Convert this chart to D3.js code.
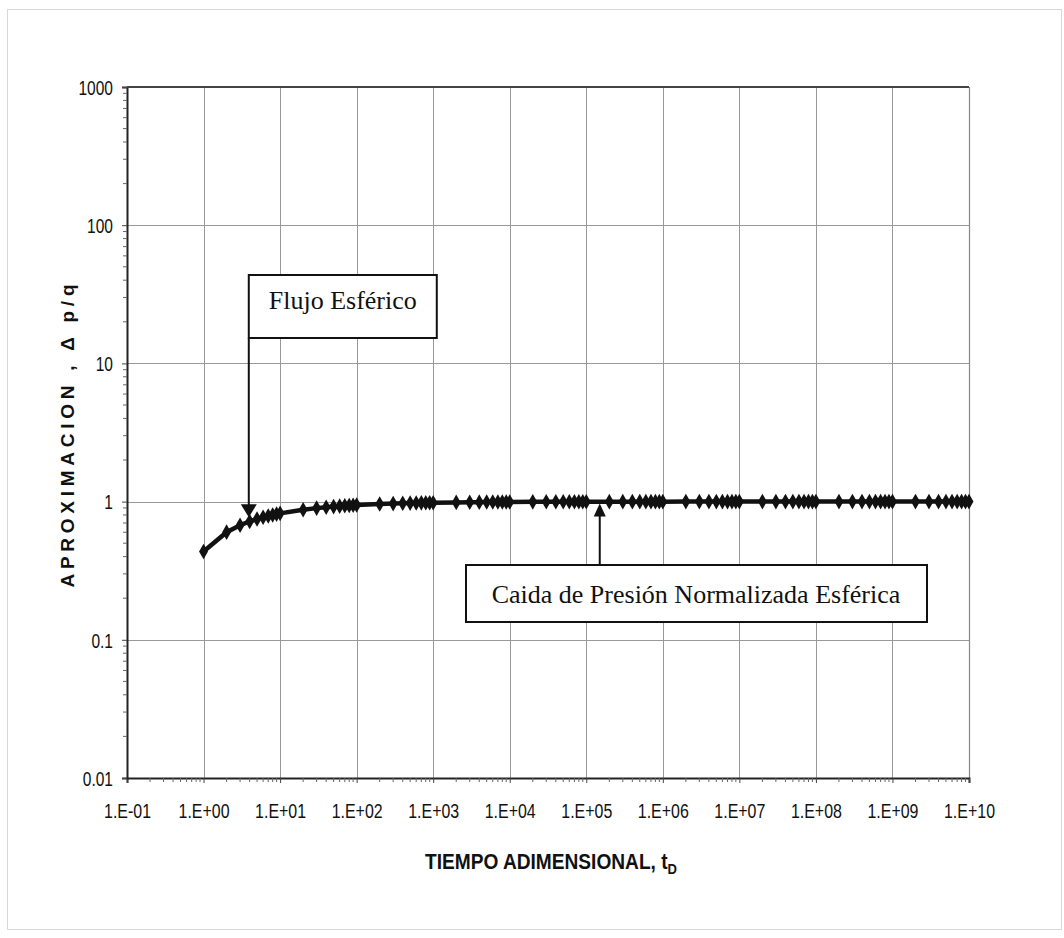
<!DOCTYPE html>
<html><head><meta charset="utf-8">
<script src="https://cdn.jsdelivr.net/npm/d3@7"></script>
<style>body{margin:0;background:#fff;}svg{display:block;}</style>
</head><body>
<svg id="c" width="1064" height="938"></svg>
<script>
// Data
const tD = [
 1,2,3,4,5,6,7,8,9,
 10,20,30,40,50,60,70,80,90,
 100,200,300,400,500,600,700,800,900,
 1e3,2e3,3e3,4e3,5e3,6e3,7e3,8e3,9e3,
 1e4,2e4,3e4,4e4,5e4,6e4,7e4,8e4,9e4,
 1e5,2e5,3e5,4e5,5e5,6e5,7e5,8e5,9e5,
 1e6,2e6,3e6,4e6,5e6,6e6,7e6,8e6,9e6,
 1e7,2e7,3e7,4e7,5e7,6e7,7e7,8e7,9e7,
 1e8,2e8,3e8,4e8,5e8,6e8,7e8,8e8,9e8,
 1e9,2e9,3e9,4e9,5e9,6e9,7e9,8e9,9e9,
 1e10];
const approx = [
 0.436,0.601,0.674,0.718,0.748,0.770,0.787,0.801,0.812,
 0.822,0.874,0.897,0.911,0.920,0.927,0.933,0.937,0.941,
 0.944,0.960,0.967,0.972,0.975,0.977,0.979,0.980,0.981,
 0.982,0.987,0.990,0.991,0.992,0.993,0.993,0.994,0.994,
 0.994,0.996,0.997,0.997,0.997,0.998,0.998,0.998,0.998,
 0.998,0.999,0.999,0.999,0.999,0.999,0.999,0.999,0.999,
 0.999,1.000,1.000,1.000,1.000,1.000,1.000,1.000,1.000,
 1.000,1.000,1.000,1.000,1.000,1.000,1.000,1.000,1.000,
 1.000,1.000,1.000,1.000,1.000,1.000,1.000,1.000,1.000,
 1.000,1.000,1.000,1.000,1.000,1.000,1.000,1.000,1.000,
 1.000];
const xTicks = [1e-1,1e0,1e1,1e2,1e3,1e4,1e5,1e6,1e7,1e8,1e9,1e10];
const xTickLabels = ["1.E-01","1.E+00","1.E+01","1.E+02","1.E+03","1.E+04","1.E+05","1.E+06","1.E+07","1.E+08","1.E+09","1.E+10"];
const yTicks = [0.01,0.1,1,10,100,1000];
const yTickLabels = ["0.01","0.1","1","10","100","1000"];
const notes = [
 {text:"Flujo Esférico", t:3.9, v:0.77},
 {text:"Caida de Presión Normalizada Esférica", t:1.5e5, v:0.97}
];

const svg = d3.select("#c");
const L=127, R=969, T=87, B=778;
const x = d3.scaleLog().domain([1e-1,1e10]).range([L,R]);
const y = d3.scaleLog().domain([0.01,1000]).range([B,T]);
const sans = "'Liberation Sans', Arial, sans-serif";
const serif = "'Liberation Serif', 'Times New Roman', serif";

// outer faint frame
svg.append("rect").attr("x",7.5).attr("y",9.5).attr("width",1054).attr("height",920)
  .attr("fill","none").attr("stroke","#d8d8d8").attr("stroke-width",1);

// grid
const g = svg.append("g");
g.selectAll(".vx").data(xTicks.slice(1,-1)).join("line")
  .attr("x1",d=>Math.round(x(d))+0.5).attr("x2",d=>Math.round(x(d))+0.5)
  .attr("y1",T).attr("y2",B).attr("stroke","#999").attr("stroke-width",1);
g.selectAll(".hy").data(yTicks.slice(1,-1)).join("line")
  .attr("y1",d=>Math.round(y(d))+0.5).attr("y2",d=>Math.round(y(d))+0.5)
  .attr("x1",L).attr("x2",R).attr("stroke","#999").attr("stroke-width",1);
g.append("line").attr("x1",R+0.5).attr("x2",R+0.5).attr("y1",T).attr("y2",B).attr("stroke","#888").attr("stroke-width",1.2);

// axes
const xAxis = d3.axisBottom(x).tickValues(xTicks).tickFormat((d,i)=>xTickLabels[i]).tickSize(5).tickPadding(18);
const xg = svg.append("g").attr("transform",`translate(0,${B})`).call(xAxis);
const yAxis = d3.axisLeft(y).tickValues(yTicks).tickFormat((d,i)=>yTickLabels[i]).tickSize(5).tickPadding(6);
const yg = svg.append("g").attr("transform",`translate(${L},0)`).call(yAxis);
[xg,yg].forEach(a=>{
  a.select(".domain").attr("stroke","#222").attr("stroke-width",2);
  a.selectAll(".tick line").attr("stroke","#444");
  a.selectAll("text").attr("font-family",sans).attr("font-size",21).attr("fill","#111");
});
xg.selectAll("text").attr("dy","0.8em").attr("transform","scale(0.76,1)");
yg.selectAll("text").attr("dy","0.35em").attr("x",-14/0.74).attr("transform","scale(0.74,1)");
// top border
svg.append("line").attr("x1",L).attr("x2",R).attr("y1",T).attr("y2",T).attr("stroke","#444").attr("stroke-width",2);

// minor ticks
const minorX=[], minorY=[];
for(let e=-1;e<10;e++) for(let k=2;k<10;k++) minorX.push(k*Math.pow(10,e));
for(let e=-2;e<3;e++) for(let k=2;k<10;k++) minorY.push(k*Math.pow(10,e));
svg.append("g").selectAll("line").data(minorX).join("line")
  .attr("x1",d=>x(d)).attr("x2",d=>x(d)).attr("y1",B).attr("y2",B+4).attr("stroke","#666");
svg.append("g").selectAll("line").data(minorY).join("line")
  .attr("y1",d=>y(d)).attr("y2",d=>y(d)).attr("x1",L).attr("x2",L-4).attr("stroke","#666");

// data series
const pts = tD.map((t,i)=>({t, v:approx[i]}));
svg.append("path").datum(pts)
  .attr("d", d3.line().x(d=>x(d.t)).y(d=>y(d.v)))
  .attr("fill","none").attr("stroke","#111").attr("stroke-width",4.5);
svg.append("g").selectAll("path").data(pts).join("path")
  .attr("transform",d=>`translate(${x(d.t)},${y(d.v)})`)
  .attr("d", d3.symbol().type(d3.symbolDiamond).size(70)).attr("fill","#111");

// annotations
const ann = svg.append("g");
// Flujo Esférico
const a1x = x(notes[0].t), a1tip = y(notes[0].v);
ann.append("rect").attr("x",a1x).attr("y",275).attr("width",188).attr("height",63)
  .attr("fill","#fff").attr("stroke","#111").attr("stroke-width",2);
ann.append("text").attr("x",a1x+94).attr("y",309).attr("text-anchor","middle")
  .attr("font-family",serif).attr("font-size",26).attr("fill","#111").text(notes[0].text);
ann.append("line").attr("x1",a1x).attr("x2",a1x).attr("y1",338).attr("y2",a1tip-10).attr("stroke","#111").attr("stroke-width",2);
ann.append("path").attr("d",`M${a1x-8},${a1tip-13} L${a1x+8},${a1tip-13} L${a1x},${a1tip} Z`).attr("fill","#111");

// Caida de Presión
const a2x = x(notes[1].t), a2tip = y(notes[1].v);
ann.append("rect").attr("x",466).attr("y",565).attr("width",461).attr("height",57)
  .attr("fill","#fff").attr("stroke","#111").attr("stroke-width",2);
ann.append("text").attr("x",696).attr("y",603).attr("text-anchor","middle")
  .attr("font-family",serif).attr("font-size",26).attr("fill","#111").text(notes[1].text);
ann.append("line").attr("x1",a2x).attr("x2",a2x).attr("y1",565).attr("y2",a2tip+10).attr("stroke","#111").attr("stroke-width",2);
ann.append("path").attr("d",`M${a2x-6},${a2tip+13} L${a2x+6},${a2tip+13} L${a2x},${a2tip} Z`).attr("fill","#111");

// axis titles
const xt = svg.append("text").attr("transform","translate(551,869) scale(0.87,1)").attr("text-anchor","middle")
  .attr("font-family",sans).attr("font-weight","bold").attr("font-size",22).attr("fill","#111");
xt.append("tspan").text("TIEMPO ADIMENSIONAL, t");
xt.append("tspan").attr("font-size",15).attr("dy",5).text("D");

svg.append("text").attr("transform","translate(74,436) rotate(-90)").attr("text-anchor","middle")
  .attr("font-family",sans).attr("font-weight","bold").attr("font-size",19)
  .attr("textLength",303).attr("lengthAdjust","spacing")
  .attr("fill","#111").text("APROXIMACION , Δ p/q");
</script>
</body></html>
